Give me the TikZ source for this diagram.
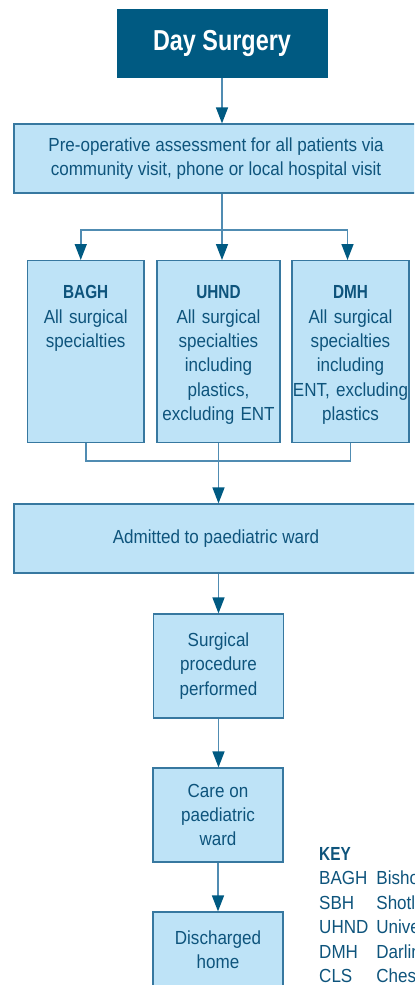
\documentclass[tikz,border=0pt]{standalone}
\usepackage{fontspec}
\setmainfont{Liberation Sans}[FakeStretch=0.9]
\newfontfamily\boldcond{Liberation Sans}[FakeStretch=0.81]
\usetikzlibrary{arrows.meta}
\definecolor{titleblue}{RGB}{0,90,130}
\definecolor{boxblue}{RGB}{190,227,247}
\definecolor{edgeblue}{RGB}{55,120,160}
\definecolor{textblue}{RGB}{14,84,124}
\definecolor{lineblue}{RGB}{80,140,178}
\newcommand{\sitehead}[1]{{\boldcond\bfseries #1}\\}
\tikzset{
	flowbox/.style = {
		rectangle,
		draw=edgeblue,
		fill=boxblue,
		line width=1.2bp,
		text=textblue,
		align=center,
		inner sep=0pt,
		font=\fontsize{19}{24.5}\selectfont
	},
	node_title/.style = {
		rectangle,
		fill=titleblue,
		text=white,
		font=\boldcond\bfseries\fontsize{29}{32}\selectfont,
		minimum width=211bp,
		minimum height=69bp
	},
	node_wide/.style = {
		flowbox,
		minimum width=404bp,
		minimum height=69bp
	},
	node_site/.style = {
		flowbox,
		anchor=north,
		text width=#1,
		text height=38bp,
		text depth=144bp
	},
	node_step/.style = {
		flowbox,
		minimum width=130bp
	},
	node_key/.style = {
		anchor=base west,
		inner sep=0pt,
		text=textblue,
		font=\fontsize{19}{24.5}\selectfont
	},
	link/.style = {
		lineblue,
		line width=1.5bp
	},
}

\begin{document}
\begin{tikzpicture}[x=1bp, y=-1bp, ->, >={Triangle[length=16bp, width=12bp, color=titleblue]}]
\clip (0,0) rectangle (414,985);
\node [node_title] (title) at (222,43.5) {Day Surgery};
\node [node_wide] (assess) at (216,158.5) {Pre-operative assessment for all patients via\\community visit, phone or local hospital visit};
\node [node_site=116.5bp] (bagh) at (85.75,260) {\sitehead{BAGH}All surgical\\specialties};
\node [node_site=123bp] (uhnd) at (218.5,260) {\sitehead{UHND}All surgical\\specialties\\including\\plastics,\\excluding ENT};
\node [node_site=117bp] (dmh) at (350.5,260) {\sitehead{DMH}All surgical\\specialties\\including\\ENT,~excluding\\plastics};
\node [node_wide] (admit) at (216,538.5) {Admitted to paediatric ward};
\node [node_step, minimum height=104bp] (surgery) at (218.5,666) {Surgical\\procedure\\performed};
\node [node_step, minimum height=94bp] (care) at (218,815) {Care on\\paediatric\\ward};
\node [node_step, minimum height=75bp] (home) at (218,949.5) {Discharged\\home};
\node [node_key] (key) at (319,860.5) {\begin{tabular}[t]{@{}l@{\hspace{8bp}}l@{}}
	\multicolumn{2}{@{}l}{\boldcond\bfseries KEY}\\
	BAGH & Bishop Auckland General Hospital\\
	SBH & Shotley Bridge Hospital\\
	UHND & University Hospital of North Durham\\
	DMH & Darlington Memorial Hospital\\
	CLS & Chester-le-Street Hospital
\end{tabular}};

\coordinate (fork) at (222,230);
\coordinate (merge) at (219,461);
\draw [link] (title.south) -- (title.south |- assess.north);
\draw [link, -] (title.south |- assess.south) -- (fork);
\draw [link] (fork) -| ([xshift=-5bp]bagh.north);
\draw [link] (fork) -- (fork |- uhnd.north);
\draw [link] (fork) -| ([xshift=-3bp]dmh.north);
\draw [link, -] (bagh.south) |- (merge) -| (dmh.south);
\draw [link] (uhnd.south) -- (uhnd.south |- admit.north);
\draw [link] (surgery.north |- admit.south) -- (surgery.north);
\draw [link] (surgery.south) -- (surgery.south |- care.north);
\draw [link] (care.south) -- (care.south |- home.north);
\end{tikzpicture}
\end{document}
